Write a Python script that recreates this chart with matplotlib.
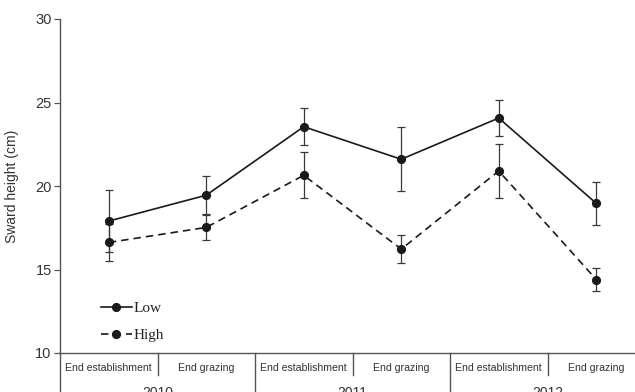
import matplotlib.pyplot as plt
from matplotlib import transforms

# Sward height (cm) per sampling occasion, mean and error
categories = ['End establishment', 'End grazing'] * 3
years = ['2010', '2011', '2012']
low_mean = [17.9, 19.45, 23.55, 21.6, 24.07, 18.96]
low_err = [1.85, 1.16, 1.1, 1.92, 1.08, 1.27]
high_mean = [16.62, 17.52, 20.64, 16.22, 20.9, 14.4]
high_err = [1.13, 0.78, 1.38, 0.83, 1.6, 0.7]

plt.rcParams['font.family'] = ['Liberation Sans', 'DejaVu Sans']

fig = plt.figure(figsize=(6.35, 3.92), dpi=100)
ax = fig.add_axes([60 / 635, 39 / 392, 575 / 635, 334 / 392])

x = list(range(len(categories)))
ink = '#1a1a1a'
axis_col = '#555555'

ax.errorbar(x, low_mean, yerr=low_err, fmt='none', ecolor='#3a3a3a',
            elinewidth=0.9, capsize=2.6, capthick=0.9, zorder=2)
ax.errorbar(x, high_mean, yerr=high_err, fmt='none', ecolor='#3a3a3a',
            elinewidth=0.9, capsize=2.6, capthick=0.9, zorder=2)
low_line, = ax.plot(x, low_mean, '-o', color=ink, lw=1.2, ms=5.6,
                    label='Low', zorder=3)
high_line, = ax.plot(x, high_mean, '--o', color=ink, lw=1.2, ms=5.6,
                     dashes=(4.5, 3), label='High', zorder=3)

ax.set_xlim(-0.5, -0.5 + 575 / 97.5)
ax.set_ylim(10, 30)
ax.set_yticks([10, 15, 20, 25, 30])
ax.tick_params(axis='y', labelsize=10.5, length=4, width=0.9,
               color=axis_col, labelcolor='#333333', pad=2)
ax.set_xticks([])
for side in ('top', 'right'):
    ax.spines[side].set_visible(False)
for side in ('left', 'bottom'):
    ax.spines[side].set_color(axis_col)
    ax.spines[side].set_linewidth(1.0)

ax.set_ylabel('Sward height (cm)', fontsize=10, color='#333333', labelpad=12)

# category table under the axis
trans = transforms.blended_transform_factory(ax.transData, ax.transAxes)
px = 1 / 334
for i, cat in enumerate(categories):
    ax.text(i, -15 * px, cat, transform=trans, ha='center', va='center',
            fontsize=7.6, color='#333333', clip_on=False)
for i, yr in enumerate(years):
    ax.text(2 * i + 0.5, -40 * px, yr, transform=trans, ha='center',
            va='center', fontsize=10, color='#333333', clip_on=False)
for b in [0.5, 2.5, 4.5]:
    ax.plot([b, b], [0, -22 * px], transform=trans, color=axis_col,
            lw=1.0, clip_on=False)
for b in [-0.5, 1.5, 3.5]:
    ax.plot([b, b], [0, -45 * px], transform=trans, color=axis_col,
            lw=1.0, clip_on=False)

leg = ax.legend(handles=[low_line, high_line], loc='lower left',
                bbox_to_anchor=(0.058, 0.009), frameon=False,
                prop={'family': 'Liberation Serif', 'size': 11},
                handlelength=2.0, handletextpad=0.1, labelspacing=0.9,
                borderpad=0, labelcolor='#222222')

fig.savefig('out.png', dpi=100)
